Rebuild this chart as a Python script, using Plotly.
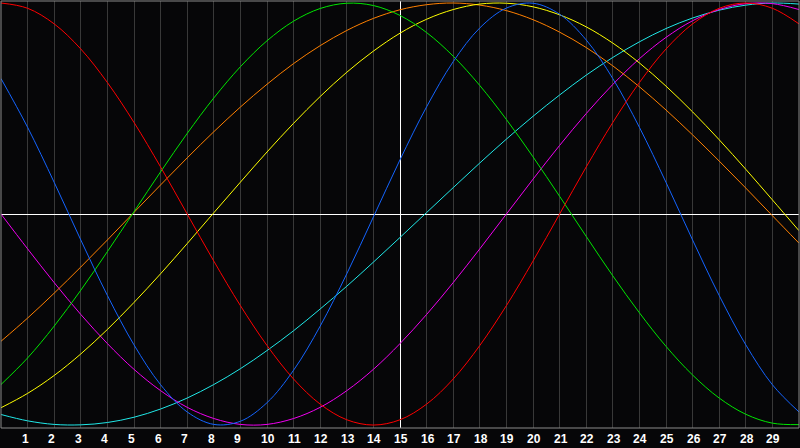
import plotly.graph_objects as go

# day positions (0..30) and the labels printed under the grid lines
days = list(range(0, 31))
day_labels = ['1', '2', '3', '4', '5', '6', '7', '8', '9', '10', '11', '12', '13', '14', '15',
              '16', '17', '18', '19', '20', '21', '22', '23', '24', '25', '26', '27', '28', '29']
label_days = list(range(1, 30))
today = 15

# curve values (-1 .. 1)
red = [1.000, 0.975, 0.901, 0.782, 0.623, 0.434, 0.223, 0.000, -0.223, -0.434, -0.623,
       -0.782, -0.901, -0.975, -1.000, -0.975, -0.901, -0.782, -0.623, -0.434, -0.223,
       0.000, 0.223, 0.434, 0.623, 0.782, 0.901, 0.975, 1.000, 0.975, 0.901]
blue = [0.642, 0.411, 0.150, -0.123, -0.386, -0.620, -0.809, -0.938, -0.997, -0.982, -0.894,
        -0.740, -0.531, -0.283, -0.014, 0.257, 0.508, 0.722, 0.882, 0.976, 0.999,
        0.947, 0.825, 0.642, 0.411, 0.150, -0.123, -0.386, -0.620, -0.809, -0.938]
green = [-0.808, -0.682, -0.531, -0.361, -0.178, 0.011, 0.200, 0.382, 0.550, 0.698, 0.821,
         0.914, 0.974, 0.999, 0.988, 0.941, 0.860, 0.748, 0.609, 0.448, 0.271,
         0.084, -0.106, -0.293, -0.468, -0.627, -0.763, -0.872, -0.949, -0.991, -0.998]
magenta = [0.000, -0.165, -0.325, -0.476, -0.614, -0.736, -0.837, -0.916, -0.969, -0.997, -0.997,
           -0.969, -0.916, -0.837, -0.736, -0.614, -0.476, -0.325, -0.165, 0.000, 0.165,
           0.325, 0.476, 0.614, 0.736, 0.837, 0.916, 0.969, 0.997, 0.997, 0.969]
yellow = [-0.918, -0.850, -0.765, -0.663, -0.547, -0.419, -0.283, -0.140, 0.006, 0.151, 0.294,
          0.430, 0.557, 0.672, 0.772, 0.857, 0.923, 0.969, 0.995, 0.999, 0.982,
          0.944, 0.887, 0.810, 0.716, 0.606, 0.484, 0.352, 0.212, 0.067, -0.079]
orange = [-0.603, -0.493, -0.375, -0.251, -0.123, 0.008, 0.138, 0.266, 0.390, 0.507, 0.615,
          0.713, 0.798, 0.870, 0.927, 0.968, 0.992, 1.000, 0.990, 0.964, 0.921,
          0.862, 0.789, 0.702, 0.603, 0.493, 0.375, 0.251, 0.123, -0.008, -0.138]
cyan = [-0.950, -0.980, -0.997, -0.999, -0.988, -0.963, -0.924, -0.872, -0.808, -0.733, -0.647,
        -0.553, -0.450, -0.342, -0.228, -0.111, 0.007, 0.125, 0.242, 0.355, 0.463,
        0.564, 0.658, 0.742, 0.816, 0.879, 0.929, 0.966, 0.990, 1.000, 0.995]

series = [
    (cyan, '#20e8e8'),
    (magenta, '#f000f0'),
    (orange, '#ff8000'),
    (yellow, '#ffff00'),
    (green, '#00e600'),
    (blue, '#1464ff'),
    (red, '#ff0000'),
]

fig = go.Figure()
for vals, col in series:
    fig.add_trace(go.Scatter(x=days, y=vals, mode='lines',
                             line=dict(color=col, width=1, shape='spline'),
                             hoverinfo='skip'))
# empty trace so the overlaid "today" axis gets drawn
fig.add_trace(go.Scatter(x=[today], y=[0], xaxis='x2', mode='markers',
                         marker=dict(opacity=0), hoverinfo='skip'))

bg = '#060608'
fig.update_layout(
    width=800, height=448,
    margin=dict(l=1, r=1, t=1, b=20),
    paper_bgcolor=bg, plot_bgcolor=bg,
    showlegend=False,
    hovermode=False,
    xaxis=dict(range=[0, 30], tickvals=label_days, showticklabels=False,
               showgrid=True, gridcolor='#383838', gridwidth=1,
               zeroline=False, showline=False, fixedrange=True),
    xaxis2=dict(range=[0, 30], overlaying='x', tickvals=[today], showticklabels=False,
                showgrid=True, gridcolor='white', gridwidth=1,
                zeroline=False, showline=False, fixedrange=True),
    yaxis=dict(range=[-1.014, 1.0095], showgrid=False, showticklabels=False,
               zeroline=True, zerolinecolor='white', zerolinewidth=1,
               showline=False, fixedrange=True),
)

# grey frame round the plot
fig.add_shape(type='rect', xref='paper', yref='paper', x0=0, x1=1, y0=0, y1=1,
              line=dict(color='#8a8a8a', width=1), layer='above')

for d, t in zip(label_days, day_labels):
    fig.add_annotation(x=d, y=0, xref='x', yref='paper', text='<b>' + t + '</b>',
                       showarrow=False, xanchor='left', yanchor='middle',
                       xshift=-8, yshift=-11,
                       font=dict(family='Liberation Sans', size=12, color='white'))

# page body has a default 8px margin; drop it so the chart sits at 0,0
fig.write_html("out.html", config={'displayModeBar': False},
               post_script="document.body.style.margin='0';")
